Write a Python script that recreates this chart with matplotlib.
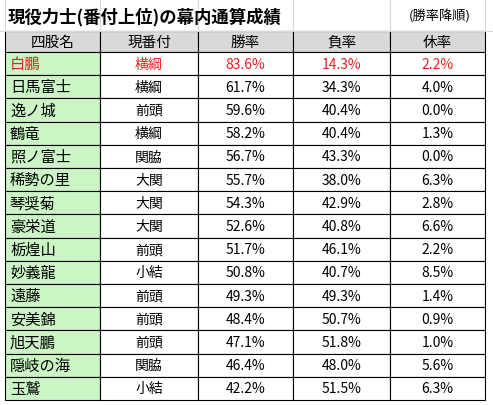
import matplotlib.pyplot as plt
from matplotlib.patches import Rectangle

plt.rcParams['font.family'] = ['Noto Sans CJK JP', 'DejaVu Sans']

title = '現役力士(番付上位)の幕内通算成績'
note = '(勝率降順)'
headers = ['四股名', '現番付', '勝率', '負率', '休率']
names = ['白鵬', '日馬富士', '逸ノ城', '鶴竜', '照ノ富士', '稀勢の里', '琴奨菊', '豪栄道',
         '栃煌山', '妙義龍', '遠藤', '安美錦', '旭天鵬', '隠岐の海', '玉鷲']
ranks = ['横綱', '横綱', '前頭', '横綱', '関脇', '大関', '大関', '大関',
         '前頭', '小結', '前頭', '前頭', '前頭', '関脇', '小結']
win = [83.6, 61.7, 59.6, 58.2, 56.7, 55.7, 54.3, 52.6, 51.7, 50.8, 49.3, 48.4, 47.1, 46.4, 42.2]
loss = [14.3, 34.3, 40.4, 40.4, 43.3, 38.0, 42.9, 40.8, 46.1, 40.7, 49.3, 50.7, 51.8, 48.0, 51.5]
rest = [2.2, 4.0, 0.0, 1.3, 0.0, 6.3, 2.8, 6.6, 2.2, 8.5, 1.4, 0.9, 1.0, 5.6, 6.3]

fig = plt.figure(figsize=(4.93, 4.06), dpi=100)
ax = fig.add_axes([0, 0, 1, 1])
ax.set_xlim(0, 493)
ax.set_ylim(406, 0)
ax.axis('off')

cols = [5, 100, 198, 293, 390, 485]
top = 32
hh = 21
rh = 23.2

# spreadsheet background grid
for x in cols:
    ax.plot([x, x], [0, top], color='#d8d8d8', lw=0.8)
ax.plot([0, 493], [top, top], color='#d8d8d8', lw=0.8)

ax.text(8, 17, title, fontsize=12.5, fontweight='bold', va='center', ha='left')
ax.text(440, 17, note, fontsize=9.5, va='center', ha='center')

for j, h in enumerate(headers):
    ax.add_patch(Rectangle((cols[j], top), cols[j+1]-cols[j], hh, fc='#d9d9d9', ec='black', lw=0.8))
    ax.text((cols[j]+cols[j+1])/2, top+hh/2, h, fontsize=10.5, ha='center', va='center')

for i in range(len(names)):
    y = top + hh + i*rh
    color = '#e8201e' if i == 0 else 'black'
    vals = [names[i], ranks[i], f'{win[i]:.1f}%', f'{loss[i]:.1f}%', f'{rest[i]:.1f}%']
    for j, v in enumerate(vals):
        fc = '#ccf5c6' if j == 0 else 'white'
        ax.add_patch(Rectangle((cols[j], y), cols[j+1]-cols[j], rh, fc=fc, ec='black', lw=0.8))
        if j == 0:
            ax.text(cols[j]+5, y+rh/2, v, fontsize=11, ha='left', va='center', color=color)
        else:
            ax.text((cols[j]+cols[j+1])/2, y+rh/2, v, fontsize=10, ha='center', va='center', color=color)

fig.savefig('out.png', dpi=100)
